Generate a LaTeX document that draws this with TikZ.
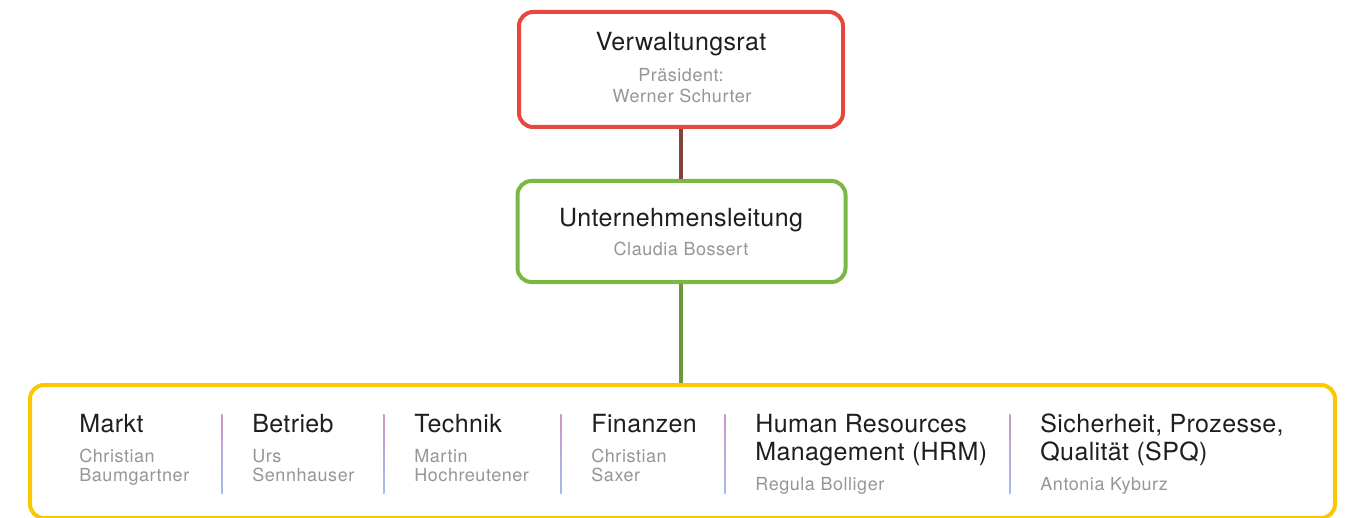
\documentclass[tikz,border=0pt]{standalone}
\usepackage{fontspec}
\setmainfont{TeX Gyre Heros}[LetterSpace=3.0]
\newfontfamily\ttlfont{TeX Gyre Heros}[LetterSpace=1.5]
\usetikzlibrary{positioning}
\definecolor{vrRed}{RGB}{231,72,62}
\definecolor{ulGreen}{RGB}{122,184,70}
\definecolor{glYellow}{RGB}{250,200,0}
\definecolor{linkBrown}{RGB}{130,68,62}
\definecolor{linkGreen}{RGB}{112,150,60}
\definecolor{nameGray}{RGB}{150,150,150}
\definecolor{titleBlack}{RGB}{30,30,30}
\definecolor{divTop}{RGB}{205,150,200}
\definecolor{divBot}{RGB}{160,190,235}
\tikzset{
	orgbox/.style={
		rounded corners=7pt,
		line width=2pt,
		fill=white,
		inner sep=0pt,
		outer sep=0pt
	},
	ttl/.style={font=\ttlfont\fontsize{12.5}{15}\selectfont, text=titleBlack, inner sep=0pt},
	pers/.style={font=\fontsize{9}{10.5}\selectfont, text=nameGray, inner sep=0pt},
	divline/.style={top color=divTop, bottom color=divBot, draw=none},
	link/.style={line width=2pt, shorten <=1pt, shorten >=1pt}
}

\begin{document}
\begin{tikzpicture}[x=0.5pt, y=-0.5pt]
	\useasboundingbox (0,0) rectangle (1348,518);
	% the three levels
	\node[orgbox, draw=vrRed, minimum width=162pt, minimum height=57.5pt] (vr) at (681,69.5) {};
	\node[orgbox, draw=ulGreen, minimum width=164pt, minimum height=50.5pt] (ul) at (681.5,231.5) {};
	\node[orgbox, draw=glYellow, minimum width=652.5pt, minimum height=66.5pt] (gl) at (682.5,451.5) {};
	\draw[link, linkBrown] (vr.south) -- (vr.south |- ul.north);
	\draw[link, linkGreen] (ul.south -| vr.south) -- (vr.south |- gl.north);
	% board
	\node[ttl, anchor=base] (vrT) at (681,51) {Verwaltungsrat};
	\node[pers, anchor=base] (vrP) at (681,82) {Präsident:};
	\node[pers, anchor=base] (vrN) at (682,103) {Werner Schurter};
	% management
	\node[ttl, anchor=base] (ulT) at (681,227) {Unternehmensleitung};
	\node[pers, anchor=base] (ulN) at (681,256) {Claudia Bossert};
	% departments
	\node[ttl, anchor=base west] (mkT) at (79,432) {Markt};
	\node[pers, anchor=base west] (mkN1) at (79,462) {Christian};
	\node[pers, anchor=base west] (mkN2) at (79,481) {Baumgartner};
	\shade[divline] (221,414) rectangle (222.5,493);
	\node[ttl, anchor=base west] (btT) at (252,432) {Betrieb};
	\node[pers, anchor=base west] (btN1) at (252,462) {Urs};
	\node[pers, anchor=base west] (btN2) at (252,481) {Sennhauser};
	\shade[divline] (383,414) rectangle (384.5,493);
	\node[ttl, anchor=base west] (tkT) at (414,432) {Technik};
	\node[pers, anchor=base west] (tkN1) at (414,462) {Martin};
	\node[pers, anchor=base west] (tkN2) at (414,481) {Hochreutener};
	\shade[divline] (560,414) rectangle (561.5,493);
	\node[ttl, anchor=base west] (fiT) at (591,432) {Finanzen};
	\node[pers, anchor=base west] (fiN1) at (591,462) {Christian};
	\node[pers, anchor=base west] (fiN2) at (591,481) {Saxer};
	\shade[divline] (724,414) rectangle (725.5,493);
	\node[ttl, anchor=base west] (hrT1) at (755,432) {Human Resources};
	\node[ttl, anchor=base west] (hrT2) at (755,460) {Management (HRM)};
	\node[pers, anchor=base west] (hrN) at (755,490) {Regula Bolliger};
	\shade[divline] (1009,414) rectangle (1010.5,493);
	\node[ttl, anchor=base west] (spT1) at (1040,432) {Sicherheit, Prozesse,};
	\node[ttl, anchor=base west] (spT2) at (1040,460) {Qualität (SPQ)};
	\node[pers, anchor=base west] (spN) at (1040,490) {Antonia Kyburz};
\end{tikzpicture}
\end{document}
